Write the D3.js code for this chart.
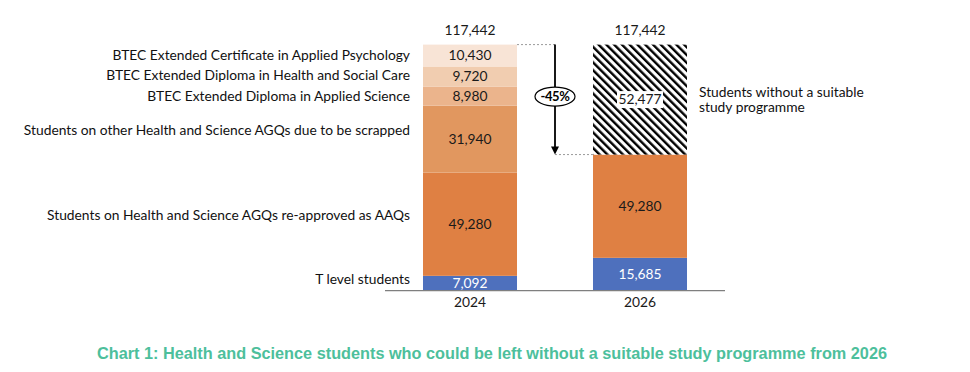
<!DOCTYPE html>
<html><head><meta charset="utf-8">
<script src="https://cdn.jsdelivr.net/npm/d3@7"></script>
<style>
html,body{margin:0;padding:0;background:#fff;}
svg{display:block;font-family:Lato,"Open Sans",sans-serif;}
</style></head>
<body><svg id="c" width="970" height="372"></svg>
<script>
const years = ["2024", "2026"];
const seriesNames = [
  "T level students",
  "Students on Health and Science AGQs re-approved as AAQs",
  "Students on other Health and Science AGQs due to be scrapped",
  "BTEC Extended Diploma in Applied Science",
  "BTEC Extended Diploma in Health and Social Care",
  "BTEC Extended Certificate in Applied Psychology",
  "Students without a suitable study programme"
];
const values2024 = [7092, 49280, 31940, 8980, 9720, 10430, 0];
const values2026 = [15685, 49280, 0, 0, 0, 0, 52477];
const seriesColors = ["#4e70bd", "#df8043", "#e1975f", "#ebb48c", "#f1cdb0", "#f8e4d6", "hatch"];
const titleText = "Chart 1: Health and Science students who could be left without a suitable study programme from 2026";

const svg = d3.select("#c");
const defs = svg.append("defs");
const pat = defs.append("pattern").attr("id","hatch").attr("patternUnits","userSpaceOnUse")
  .attr("width",5.5).attr("height",5.5).attr("patternTransform","rotate(-45)");
pat.append("rect").attr("width",5.5).attr("height",5.5).attr("fill","#fff");
pat.append("rect").attr("x",0).attr("width",2.4).attr("height",5.5).attr("fill","#000");

const rows = years.map((y,i)=>{
  const vals = i===0?values2024:values2026;
  const o = {year:y};
  seriesNames.forEach((s,j)=>o[s]=vals[j]);
  return o;
});
const stacked = d3.stack().keys(seriesNames)(rows);
const totals = rows.map(r=>d3.sum(seriesNames,s=>r[s]));

const x = d3.scaleBand().domain(years).range([385,725]).paddingInner(0.447).paddingOuter(0.2235);
const y = d3.scaleLinear().domain([0, d3.max(totals)]).range([290.7, 44.6]);
const fmt = d3.format(",");

// bars
stacked.forEach((layer,j)=>{
  const col = seriesColors[j];
  layer.forEach((d,i)=>{
    if (d[1]-d[0] <= 0) return;
    svg.append("rect")
      .attr("x", x(years[i])).attr("width", x.bandwidth())
      .attr("y", y(d[1])).attr("height", y(d[0])-y(d[1]))
      .attr("fill", col==="hatch" ? "url(#hatch)" : col);
  });
});

// value labels
stacked.forEach((layer,j)=>{
  layer.forEach((d,i)=>{
    const v = d[1]-d[0];
    if (v <= 0) return;
    const cx = x(years[i]) + x.bandwidth()/2;
    const cy = y((d[0]+d[1])/2);
    if (seriesColors[j]==="hatch") {
      svg.append("rect").attr("x",cx-23).attr("y",cy-8.5).attr("width",46).attr("height",17).attr("fill","#fff");
    }
    svg.append("text").attr("x",cx).attr("y",cy).attr("dy","0.35em")
      .attr("text-anchor","middle").attr("font-size",13.8)
      .attr("fill", j===0 ? "#fff" : "#1a1a1a").text(fmt(v));
  });
});

// totals
years.forEach((yr,i)=>{
  svg.append("text").attr("x",x(yr)+x.bandwidth()/2).attr("y",y(totals[i])-10)
    .attr("text-anchor","middle").attr("font-size",13.8).attr("fill","#1a1a1a").text(fmt(totals[i]));
});

// axis
const axis = svg.append("g").attr("transform",`translate(0,${y(0)})`).call(d3.axisBottom(x).tickSize(0).tickPadding(7));
axis.attr("font-family",null).attr("font-size",null);
axis.select(".domain").attr("stroke","#7f7f7f").attr("stroke-width",1.2).attr("d","M385,0H725");
axis.selectAll("text").attr("font-size",13.8).attr("fill","#1a1a1a");

// category labels on the left (from the 2024 stack)
const nudge = [-4, -9, -9, 0, -1.5, 0];
stacked.slice(0,6).forEach((layer,j)=>{
  const d = layer[0];
  svg.append("text").attr("x", x("2024")-13).attr("y", y((d[0]+d[1])/2)+nudge[j]).attr("dy","0.35em")
    .attr("text-anchor","end").attr("font-size",13.8).attr("fill","#111").text(seriesNames[j]);
});

// right label for hatched series
{
  const d = stacked[6][1];
  const cy = y((d[0]+d[1])/2);
  const lx = x("2026")+x.bandwidth()+12;
  const t = svg.append("text").attr("x", lx).attr("y", cy).attr("font-size",13.8).attr("fill","#111");
  t.append("tspan").attr("x", lx).attr("dy","-0.2em").text("Students without a suitable");
  t.append("tspan").attr("x", lx).attr("dy","1.1em").text("study programme");
}

// arrow & -45%
{
  const ax = (x("2024")+x.bandwidth() + x("2026"))/2;
  const topV = totals[0];
  const botV = values2026[0]+values2026[1];
  const y1 = y(topV), y2 = y(botV);
  svg.append("line").attr("x1",x("2024")+x.bandwidth()).attr("x2",ax).attr("y1",y1).attr("y2",y1)
    .attr("stroke","#9a9a9a").attr("stroke-dasharray","2,2").attr("stroke-width",1);
  svg.append("line").attr("x1",ax).attr("x2",x("2026")).attr("y1",y2).attr("y2",y2)
    .attr("stroke","#9a9a9a").attr("stroke-dasharray","2,2").attr("stroke-width",1);
  svg.append("line").attr("x1",ax).attr("x2",ax).attr("y1",y1).attr("y2",y2-7)
    .attr("stroke","#000").attr("stroke-width",1.8);
  svg.append("path").attr("d",`M${ax-4},${y2-8}L${ax+4},${y2-8}L${ax},${y2}Z`).attr("fill","#000");
  const cy = (y1+y2)/2 - 3;
  svg.append("ellipse").attr("cx",ax).attr("cy",cy).attr("rx",20).attr("ry",9.5)
    .attr("fill","#fff").attr("stroke","#000").attr("stroke-width",1.2);
  const pct = Math.round(-(topV-botV)/topV*100);
  svg.append("text").attr("x",ax).attr("y",cy).attr("dy","0.35em").attr("text-anchor","middle")
    .attr("font-size",13).attr("font-weight",700).attr("letter-spacing",-0.4).attr("fill","#000").text(pct+"%");
}

// title
svg.append("text").attr("x",492).attr("y",353).attr("dy","0.35em").attr("text-anchor","middle")
  .style("font-family","'Liberation Sans Narrow','Arial Narrow','Liberation Sans',Arial,sans-serif")
  .attr("font-weight",700).attr("font-size",16.5).attr("fill","#4dbf9c")
  .attr("textLength",790).attr("lengthAdjust","spacingAndGlyphs").text(titleText);
</script></body></html>
